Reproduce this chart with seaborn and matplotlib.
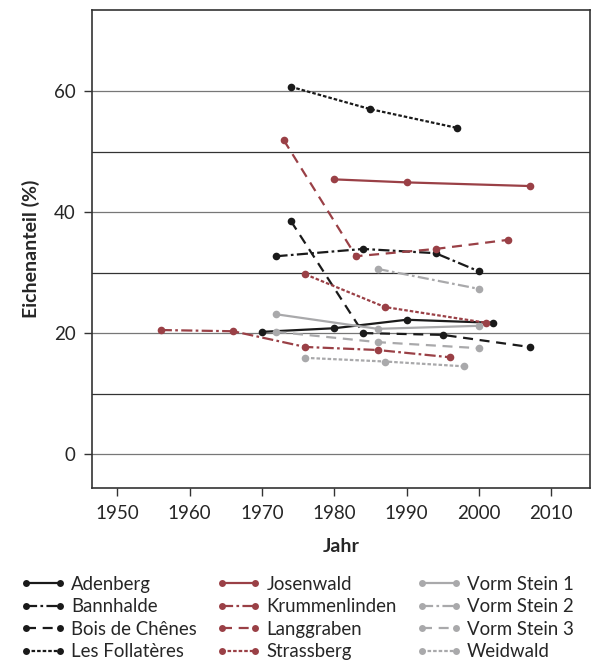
import pandas as pd
import numpy as np
import matplotlib.pyplot as plt
from matplotlib.lines import Line2D
import seaborn as sns

# sites and their series (year, oak share in %)
sites = ['Adenberg', 'Bannhalde', 'Bois de Chênes', 'Les Follatères',
         'Josenwald', 'Krummenlinden', 'Langgraben', 'Strassberg',
         'Vorm Stein 1', 'Vorm Stein 2', 'Vorm Stein 3', 'Weidwald']

years = {
    'Adenberg': [1970, 1980, 1990, 2002],
    'Bannhalde': [1972, 1984, 1994, 2000],
    'Bois de Chênes': [1974, 1984, 1995, 2007],
    'Les Follatères': [1974, 1985, 1997],
    'Josenwald': [1980, 1990, 2007],
    'Krummenlinden': [1956, 1966, 1976, 1986, 1996],
    'Langgraben': [1973, 1983, 1994, 2004],
    'Strassberg': [1976, 1987, 2001],
    'Vorm Stein 1': [1972, 1986, 2000],
    'Vorm Stein 2': [1986, 2000],
    'Vorm Stein 3': [1972, 1986, 2000],
    'Weidwald': [1976, 1987, 1998],
}

anteil = {
    'Adenberg': [20.2, 20.8, 22.2, 21.7],
    'Bannhalde': [32.7, 33.9, 33.2, 30.2],
    'Bois de Chênes': [38.5, 20.0, 19.7, 17.7],
    'Les Follatères': [60.7, 57.0, 53.9],
    'Josenwald': [45.4, 44.9, 44.3],
    'Krummenlinden': [20.5, 20.3, 17.7, 17.2, 16.0],
    'Langgraben': [51.9, 32.7, 33.9, 35.4],
    'Strassberg': [29.7, 24.3, 21.7],
    'Vorm Stein 1': [23.1, 20.7, 21.2],
    'Vorm Stein 2': [30.6, 27.3],
    'Vorm Stein 3': [20.2, 18.5, 17.5],
    'Weidwald': [15.9, 15.3, 14.5],
}

# colour group and line style per site
black, red, grey = '#1a1a1a', '#9a4046', '#a9a9ab'
colors = dict(zip(sites, [black] * 4 + [red] * 4 + [grey] * 4))
styles = ['', (5, 1.5, 1.2, 1.5), (4.5, 3), (1.6, 0.9)]
dashes = dict(zip(sites, styles * 3))

rows = []
for s in sites:
    for yr, v in zip(years[s], anteil[s]):
        rows.append({'Standort': s, 'Jahr': yr, 'Anteil': v})
df = pd.DataFrame(rows)

sns.set_style('white')
plt.rcParams['font.family'] = ['Lato', 'DejaVu Sans']

fig = plt.figure(figsize=(6.06, 6.63), dpi=100)
ax = fig.add_axes([0.152, 0.264, 0.822, 0.721])

# gridlines every 10 %
for g in range(0, 70, 10):
    ax.axhline(g, color='#777777' if g % 20 == 0 else '#333333', lw=0.9, zorder=0)

sns.lineplot(data=df, x='Jahr', y='Anteil', hue='Standort', style='Standort',
             palette=colors, dashes=dashes, markers={s: 'o' for s in sites},
             markersize=5.5, markeredgewidth=0, linewidth=1.6, sort=False,
             legend=False, ax=ax)

ax.set_xlim(1946.5, 2015.4)
ax.set_ylim(-5.6, 73.4)
ax.set_xticks(range(1950, 2011, 10))
ax.set_yticks([0, 20, 40, 60])
ax.tick_params(axis='both', direction='out', length=6, width=1, color='#333333',
               labelsize=13.5, pad=6, left=True, bottom=True)
for sp in ax.spines.values():
    sp.set_color('#333333')
    sp.set_linewidth(1.2)
ax.set_xlabel('Jahr', fontsize=14, fontweight='bold', labelpad=12)
ax.set_ylabel('Eichenanteil (%)', fontsize=14, fontweight='bold', labelpad=10)

handles = [Line2D([], [], color=colors[s], lw=1.6, marker='o', markersize=5,
                  markeredgewidth=0,
                  linestyle=(0, dashes[s]) if dashes[s] else '-')
           for s in sites]
fig.legend(handles, sites, ncol=3, loc='lower left', bbox_to_anchor=(0.016, -0.013),
           frameon=False, fontsize=13.4, numpoints=2, handlelength=2.4,
           handletextpad=0.3, columnspacing=1.05, labelspacing=0.3,
           borderaxespad=0.2)

fig.savefig('out.png', dpi=100)
